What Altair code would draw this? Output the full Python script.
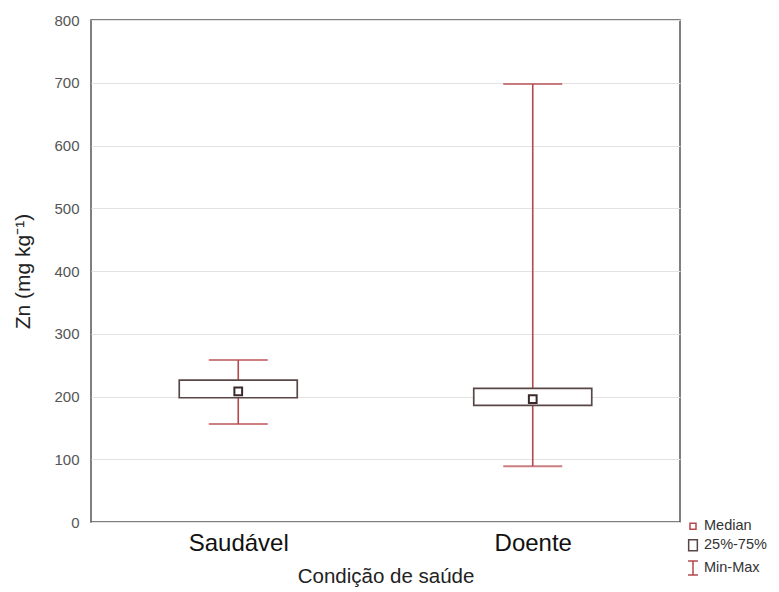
import altair as alt
import pandas as pd

# ---- data ----
categories = ["Saudável", "Doente"]
minimum = [156, 89]
q1 = [198, 186]
median = [208, 196]
q3 = [226, 213]
maximum = [258, 698]

legend_items = ["Median", "25%-75%", "Min-Max"]

df = pd.DataFrame({
    "cat": categories, "min": minimum, "q1": q1,
    "median": median, "q3": q3, "max": maximum,
})
leg = pd.DataFrame({"item": legend_items})

RED = "#b5484b"
DARK = "#5a4646"
FONT = "Liberation Sans"

x = alt.X("cat:N", sort=categories,
          scale=alt.Scale(type="point", padding=0.5),
          axis=alt.Axis(title="Condição de saúde", labelAngle=0, labelFontSize=24,
                        labelColor="#111", labelPadding=9, ticks=False, domain=False,
                        titleFontSize=20.5, titleFontWeight="normal", titleColor="#222",
                        titlePadding=11, grid=False))
yscale = alt.Scale(domain=[0, 800], nice=False)
yaxis = alt.Axis(title="Zn (mg kg⁻¹)", values=list(range(0, 801, 100)),
                 labelFontSize=15, labelColor="#555", labelPadding=12, ticks=False,
                 domain=False, gridColor="#e2e2e2", gridWidth=1.2,
                 titleFontSize=21, titleFontWeight="normal", titleColor="#222",
                 titlePadding=20)

base = alt.Chart(df)

whisker = base.mark_rule(color=RED, strokeWidth=1.6).encode(
    x=x, y=alt.Y("min:Q", scale=yscale, axis=yaxis), y2="max:Q")
cap_lo = base.mark_tick(color=RED, size=59, thickness=2, orient="horizontal").encode(
    x=x, y=alt.Y("min:Q", scale=yscale))
cap_hi = base.mark_tick(color=RED, size=59, thickness=2, orient="horizontal").encode(
    x=x, y=alt.Y("max:Q", scale=yscale))
box = base.mark_bar(fill="white", stroke=DARK, strokeWidth=1.7, size=118).encode(
    x=x, y=alt.Y("q1:Q", scale=yscale), y2="q3:Q")
med = base.mark_point(shape="square", filled=True, fill="white", stroke="#3a2a2a",
                      strokeWidth=2, size=60, opacity=1).encode(
    x=x, y=alt.Y("median:Q", scale=yscale))

legend_layer = alt.Chart(leg).mark_point(filled=False, strokeWidth=1.5).encode(
    color=alt.Color("item:N", sort=legend_items,
                    scale=alt.Scale(domain=legend_items, range=[RED, DARK, RED]),
                    legend=alt.Legend(title=None, orient="none", legendX=594, legendY=499,
                                      labelFontSize=14.5, labelColor="#333", labelFont=FONT,
                                      symbolOpacity=1, rowPadding=3, labelOffset=3,
                                      symbolStrokeWidth=1.5)),
    shape=alt.Shape("item:N", sort=legend_items,
                    scale=alt.Scale(domain=legend_items,
                                    range=["square", "M-0.8,-1H0.8V1H-0.8Z",
                                           "M-0.7,-1H0.7M0,-1V1M-0.7,1H0.7"])),
    size=alt.Size("item:N", sort=legend_items,
                  scale=alt.Scale(domain=legend_items, range=[36, 200, 200])),
    opacity=alt.value(0),
)

chart = alt.layer(whisker, cap_lo, cap_hi, box, med, legend_layer).properties(
    width=589, height=502,
    autosize=alt.AutoSizeParams(type="none"),
    padding={"left": 83, "top": 12, "right": 90, "bottom": 70},
).configure(
    font=FONT, background="white",
    view=alt.ViewConfig(stroke="#555", strokeWidth=1.5),
)

chart.save("out.html", embed_options={"renderer": "svg", "actions": False})
